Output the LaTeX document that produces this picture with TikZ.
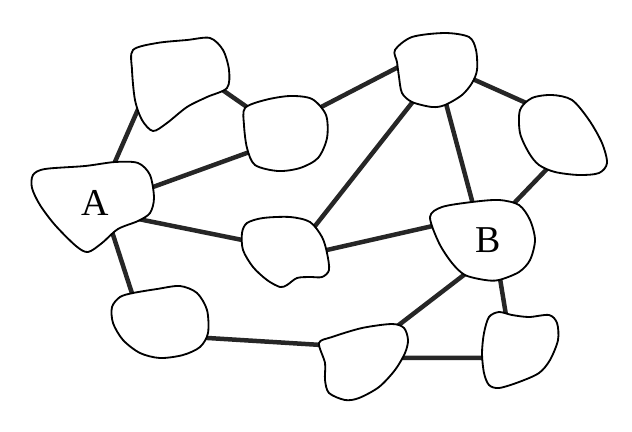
\documentclass[tikz,border=0pt]{standalone}
\usepackage{fontspec}
\setmainfont{Liberation Serif}
\usetikzlibrary{backgrounds}

\begin{document}
\begin{tikzpicture}[x=0.25mm, y=-0.25mm,
    blob/.style={draw=black, line width=1.3pt, fill=white},
    hub/.style={circle, minimum size=15mm, inner sep=0pt, font=\fontsize{27}{30}\selectfont},
    link/.style={draw=black!85, line width=3.2pt}]
  \useasboundingbox (0,0) rectangle (632,431);
  % regions
  \draw[blob] plot[smooth cycle] coordinates {(133,50) (157,43) (187,40) (210,38) (223,50) (229,70)
    (227,88) (207,97) (187,107) (167,123) (153,131) (142,120) (135,100) (132,70)};
  \draw[blob] plot[smooth cycle] coordinates {(245,108) (265,100) (290,96) (312,99) (326,115) (327,138)
    (318,158) (300,168) (278,171) (255,165) (247,148) (244,125)};
  \draw[blob] plot[smooth cycle] coordinates {(33,175) (45,169) (85,166) (115,162) (138,163) (150,175)
    (154,198) (150,213) (138,221) (118,229) (102,243) (88,252) (76,246) (55,225) (40,205) (32,188)};
  \draw[blob] plot[smooth cycle] coordinates {(395,50) (412,37) (445,33) (469,37) (476,50) (477,70)
    (472,83) (462,95) (445,105) (432,107) (412,102) (402,93) (399,77) (397,62)};
  \draw[blob] plot[smooth cycle] coordinates {(520,110) (532,98) (552,95) (572,100) (589,120) (602,143)
    (607,163) (599,173) (579,175) (555,172) (539,165) (529,153) (520,133)};
  \draw[blob] plot[smooth cycle] coordinates {(430,217) (442,207) (472,202) (499,200) (519,205) (530,220)
    (535,240) (530,260) (519,272) (499,280) (485,280) (465,275) (452,263) (439,243)};
  \draw[blob] plot[smooth cycle] coordinates {(242,233) (247,223) (263,218) (290,217) (310,222) (322,237)
    (327,253) (329,270) (322,277) (310,277) (297,278) (287,285) (280,287) (267,280) (253,267) (243,250)};
  \draw[blob] plot[smooth cycle] coordinates {(112,307) (120,297) (133,293) (157,289) (180,286) (197,293)
    (207,310) (208,333) (200,347) (183,355) (160,358) (140,353) (123,340) (113,323)};
  \draw[blob] plot[smooth cycle] coordinates {(319,343) (332,337) (362,328) (392,324) (404,328) (408,340)
    (405,353) (395,370) (379,387) (359,398) (345,400) (329,393) (325,380) (325,363)};
  \draw[blob] plot[smooth cycle] coordinates {(489,317) (499,312) (512,315) (529,317) (549,315) (557,323)
    (558,340) (550,360) (539,373) (519,382) (499,388) (489,385) (484,373) (482,353) (484,333)};
  % hubs
  \node[hub] (A) at (95,203) {A};
  \node[hub] (B) at (488,240) {B};
  \node[hub] (n1) at (180,85) {};
  \node[hub] (n2) at (287,135) {};
  \node[hub] (n3) at (437,70) {};
  \node[hub] (n4) at (562,137) {};
  \node[hub] (n5) at (285,250) {};
  \node[hub] (n6) at (160,322) {};
  \node[hub] (n7) at (363,362) {};
  \node[hub] (n8) at (520,350) {};
  % links
  \begin{scope}[on background layer]
    \draw[link] (A.63) -- (n1.175);
    \draw[link] (n1.7) -- (n2.145);
    \draw[link] (A.11) -- (n2.206);
    \draw[link] (n2.45) -- (n3.165);
    \draw[link] (n3.-12) -- (n4.123);
    \draw[link] (n3.233) -- (n5.35);
    \draw[link] (n3.285) -- (B.115);
    \draw[link] (n4.248) -- (B.59);
    \draw[link] (A.-25) -- (n5.166);
    \draw[link] (n5.-5) -- (B.134);
    \draw[link] (A.-58) -- (n6.144);
    \draw[link] (n6.-29) -- (n7.148);
    \draw[link] (n7.52) -- (B.243);
    \draw[link] (B.-70) -- (n8.115);
    \draw[link] (n7.8) -- (n8.195);
  \end{scope}
\end{tikzpicture}
\end{document}
